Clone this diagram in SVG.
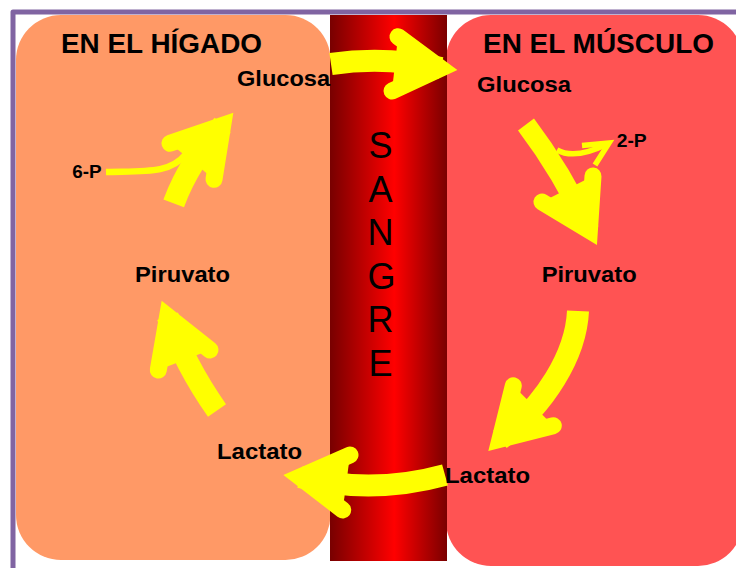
<svg xmlns="http://www.w3.org/2000/svg" width="736" height="568" viewBox="0 0 736 568">
<defs>
<linearGradient id="blood" x1="0" y1="0" x2="1" y2="0">
<stop offset="0" stop-color="#780000"/>
<stop offset="0.55" stop-color="#ff0000"/>
<stop offset="1" stop-color="#7a0000"/>
</linearGradient>
</defs>
<style>
.lbl{font-family:"Liberation Sans",Arial,sans-serif;font-weight:bold;fill:#000}
.title{font-size:27.5px}
.met{font-size:22.5px}
.small{font-size:17.5px}
.sangre{font-family:"Liberation Sans",Arial,sans-serif;font-size:36px;fill:#000}
.shaft{fill:none;stroke:#ffff00;stroke-width:22;stroke-linecap:butt}
.head{fill:#ffff00;stroke:#ffff00;stroke-width:17;stroke-linejoin:miter;stroke-linecap:round;stroke-miterlimit:10}
.thin{fill:none;stroke:#ffff00;stroke-width:5.5;stroke-linecap:butt;stroke-linejoin:miter}
</style>
<rect width="736" height="568" fill="#fff"/>
<path d="M13,570 V12 H740" fill="none" stroke="#8064a2" stroke-width="5" stroke-linejoin="round"/>
<g id="higado">
<rect x="16" y="15" width="314.5" height="545" rx="45" ry="45" fill="#ff9966"/>
<text class="lbl title" x="61" y="52.5" textLength="201" lengthAdjust="spacingAndGlyphs">EN EL HÍGADO</text>
</g>
<g id="musculo">
<rect x="446" y="15" width="297" height="551" rx="45" ry="45" fill="#ff5353"/>
<text class="lbl title" x="483" y="52.5" textLength="231" lengthAdjust="spacingAndGlyphs">EN EL MÚSCULO</text>
</g>
<g id="sangre">
<rect x="330" y="15" width="117" height="546" fill="url(#blood)"/>
<text class="sangre" text-anchor="middle"><tspan x="380.5" y="158">S</tspan><tspan x="380.5" y="201.6">A</tspan><tspan x="380.5" y="245.2">N</tspan><tspan x="381.5" y="288.8">G</tspan><tspan x="380.5" y="332.4">R</tspan><tspan x="380.5" y="376">E</tspan></text>
</g>
<g id="connectors">
<g id="arrow-glucosa-sangre">
<path class="shaft" d="M331,64 Q385,56 441,68"/>
<polyline class="head" points="398,36.7 440.8,68.4 392,91"/>
</g>
<g id="arrow-glucosa-piruvato-musculo">
<path class="shaft" style="stroke-width:20" d="M526,124.5 Q562,172 589.4,230.5"/>
<polyline class="head" points="542,202 589.4,230.5 593,176"/>
</g>
<g id="arrow-2p">
<path class="thin" d="M557,150 Q575,160 607,144"/>
<polyline class="thin" points="582,145.5 609,143 595,165"/>
</g>
<g id="arrow-piruvato-lactato-musculo">
<path class="shaft" d="M578,311 C576,355 545,405 500,439.3"/>
<polyline class="head" points="513.3,385.7 500,439.3 553.3,425.7"/>
</g>
<g id="arrow-lactato-sangre">
<path class="shaft" d="M445,475 Q372,495 300,477"/>
<polyline class="head" points="350,455 299.9,477 342.7,510"/>
</g>
<g id="arrow-lactato-piruvato-higado">
<path class="shaft" d="M217,410.5 Q185,365 167.6,316.3"/>
<polyline class="head" points="158.3,370 167.6,316.3 210,350"/>
</g>
<g id="arrow-piruvato-glucosa-higado">
<path class="shaft" d="M173.7,203.3 Q190,160 222.7,125.3"/>
<polyline class="head" points="170,143.3 222.7,125.3 214,179.3"/>
<path class="thin" style="stroke-width:6.5" d="M106,172 C145,171 170,174 186,154"/>
</g>
</g>
<g id="glucosa-higado"><text class="lbl met" x="237" y="86" textLength="93" lengthAdjust="spacingAndGlyphs">Glucosa</text></g>
<g id="glucosa-musculo"><text class="lbl met" x="477" y="91.7" textLength="94" lengthAdjust="spacingAndGlyphs">Glucosa</text></g>
<g id="piruvato-higado"><text class="lbl met" x="135" y="282" textLength="95" lengthAdjust="spacingAndGlyphs">Piruvato</text></g>
<g id="piruvato-musculo"><text class="lbl met" x="541.7" y="282" textLength="95" lengthAdjust="spacingAndGlyphs">Piruvato</text></g>
<g id="lactato-higado"><text class="lbl met" x="217" y="459.3" textLength="85" lengthAdjust="spacingAndGlyphs">Lactato</text></g>
<g id="lactato-musculo"><text class="lbl met" x="445" y="483.3" textLength="85" lengthAdjust="spacingAndGlyphs">Lactato</text></g>
<g id="label-6p"><text class="lbl small" x="72.3" y="177.7" textLength="29.4" lengthAdjust="spacingAndGlyphs">6-P</text></g>
<g id="label-2p"><text class="lbl small" x="616.7" y="146.7" textLength="30" lengthAdjust="spacingAndGlyphs">2-P</text></g>
</svg>
